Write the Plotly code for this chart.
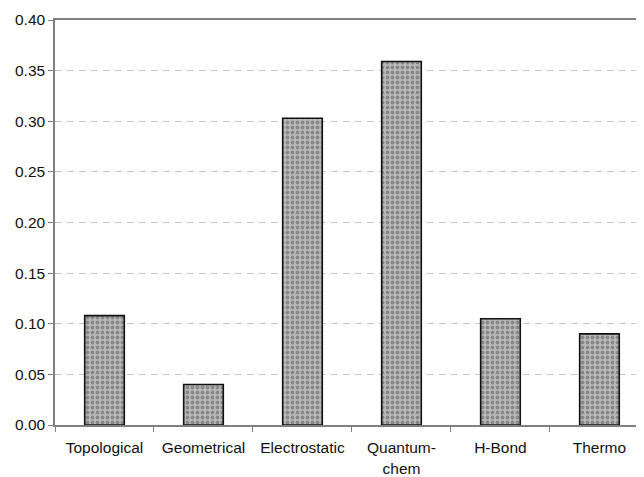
import plotly.graph_objects as go

categories = ["Topological", "Geometrical", "Electrostatic", "Quantum-<br>chem", "H-Bond", "Thermo"]
values = [0.108, 0.040, 0.303, 0.359, 0.105, 0.090]
y_ticks = [0.00, 0.05, 0.10, 0.15, 0.20, 0.25, 0.30, 0.35, 0.40]

fig = go.Figure()
fig.add_trace(go.Bar(
    x=list(range(len(categories))),
    y=values,
    width=0.4,
    marker=dict(
        color="#a8a8a8",
        line=dict(color="#111111", width=1.6),
        pattern=dict(shape=".", fgcolor="#555555", bgcolor="#bababa", size=5, solidity=0.45),
    ),
    showlegend=False,
))

fig.update_layout(
    width=636, height=469,
    margin=dict(l=47, r=0, t=12, b=52),
    paper_bgcolor="white", plot_bgcolor="white",
    font=dict(family="Liberation Sans, Arial, sans-serif", size=15, color="#111111"),
    bargap=0.6,
)
fig.update_xaxes(
    tickmode="array",
    tickvals=list(range(len(categories))),
    ticktext=categories,
    range=[-0.5, 5.45],
    showline=True, linecolor="#808080", linewidth=1.5, mirror=True,
    ticks="", showgrid=False, zeroline=False,
    tickfont=dict(size=15.5),
    ticklabelstandoff=8,
)
# category boundary tick marks
fig.update_xaxes(minor=dict(tickvals=[i + 0.5 for i in range(-1, len(categories))], ticks="outside",
                            ticklen=5, tickcolor="#808080", tickwidth=1, showgrid=False))
fig.update_yaxes(
    range=[0, 0.40],
    tickvals=y_ticks,
    ticktext=[f"{v:.2f}" for v in y_ticks],
    showline=True, linecolor="#808080", linewidth=1.5,
    ticks="outside", ticklen=5, tickcolor="#808080",
    showgrid=True, gridcolor="#c8c8c8", griddash="7px,5px", gridwidth=1,
    zeroline=False,
    tickfont=dict(size=15.5),
)

fig.write_html("out.html")
